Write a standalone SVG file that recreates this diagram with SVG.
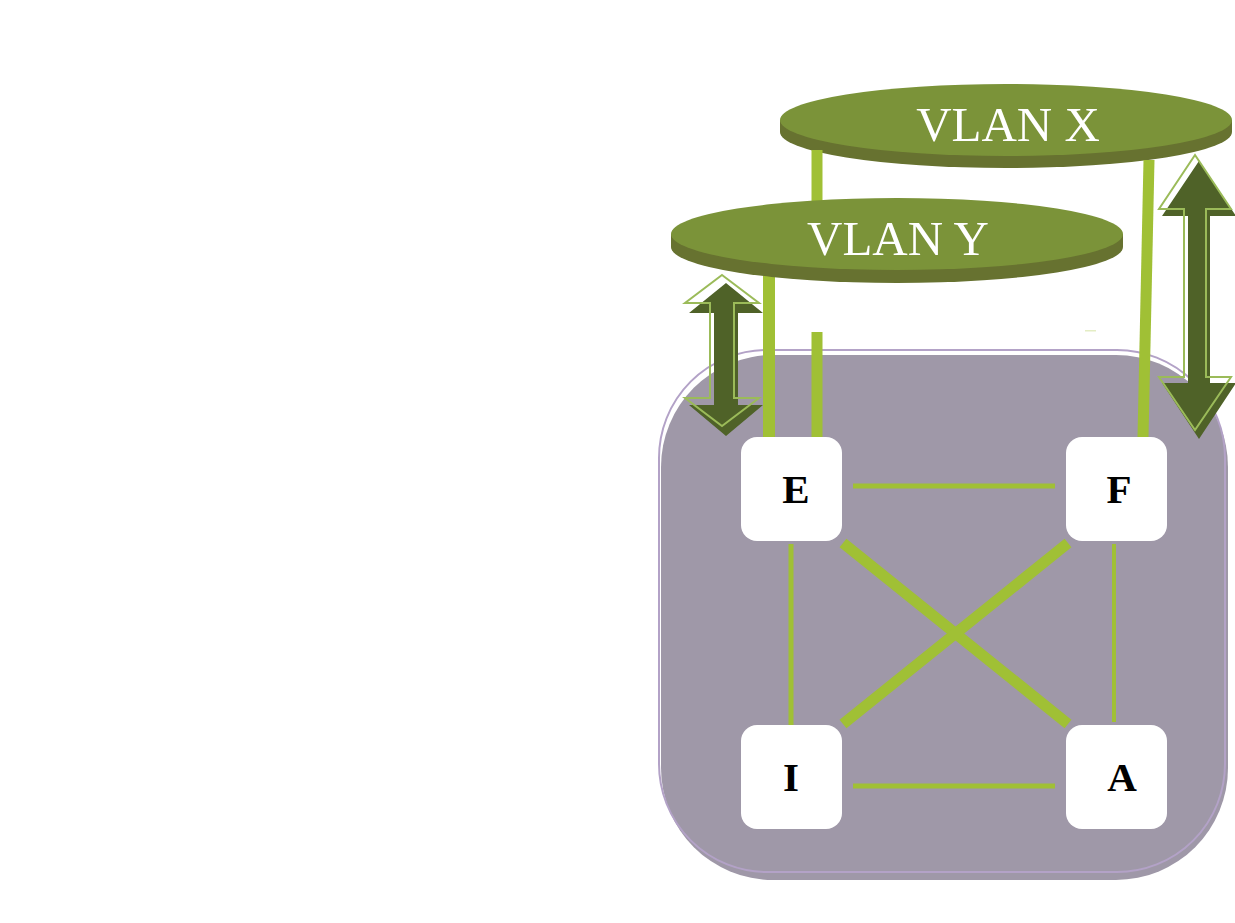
<svg xmlns="http://www.w3.org/2000/svg" width="1235" height="923" viewBox="0 0 1235 923">
<style>
.node rect{fill:#fff}
.node text{font-family:"Liberation Serif",serif;font-weight:bold;font-size:41px;fill:#000;text-anchor:middle}
.vlan text{font-family:"Liberation Serif",serif;font-size:49px;fill:#fff;text-anchor:middle}
.side{fill:#677230}
.top{fill:#7b9339}
.ln{stroke:#a0c035;fill:none}
.dark{fill:#4f6228}
.outl{fill:none;stroke:#9bbb59;stroke-width:2}
</style>
<rect width="1235" height="923" fill="#fff"/>
<g id="container">
<rect x="661" y="355" width="567" height="525" rx="112" fill="#9f98a8"/>
<rect x="659" y="350" width="566" height="522" rx="108" fill="none" stroke="#b3a2c7" stroke-width="2"/>
</g>
<g id="vlan-x" class="vlan">
<ellipse class="side" cx="1006" cy="132" rx="226" ry="36"/>
<rect class="side" x="780" y="120" width="452" height="12"/>
<ellipse class="top" cx="1006" cy="120" rx="226" ry="36"/>
<text x="1008" y="141">VLAN X</text>
</g>
<g id="connectors">
<line class="ln" x1="817" y1="150" x2="817" y2="205" stroke-width="11"/>
<line class="ln" x1="1149" y1="160" x2="1143" y2="437" stroke-width="11"/>
<line class="ln" x1="769" y1="275" x2="769" y2="437" stroke-width="12"/>
<line class="ln" x1="817" y1="332" x2="817" y2="437" stroke-width="11"/>
<line class="ln" x1="853" y1="486" x2="1055" y2="486" stroke-width="5"/>
<line class="ln" x1="853" y1="786" x2="1055" y2="786" stroke-width="5"/>
<line class="ln" x1="791" y1="544" x2="791" y2="725" stroke-width="5"/>
<line class="ln" x1="1114" y1="544" x2="1114" y2="722" stroke-width="4"/>
<line class="ln" x1="843" y1="543" x2="1068" y2="724" stroke-width="11"/>
<line class="ln" x1="1068" y1="543" x2="843" y2="724" stroke-width="11"/>
<rect x="1085" y="330" width="11" height="1.5" fill="#e4edc4"/>
</g>
<g id="vlan-y" class="vlan">
<ellipse class="side" cx="897" cy="247" rx="226" ry="36"/>
<rect class="side" x="671" y="234" width="452" height="13"/>
<ellipse class="top" cx="897" cy="234" rx="226" ry="36"/>
<text x="898" y="255">VLAN Y</text>
</g>
<g id="arrow-left">
<polygon class="dark" points="726,283 763,313 738,313 738,405 763,405 726,436 689,405 714,405 714,313 689,313"/>
<polygon class="outl" points="722,275 759,303 734,303 734,398 759,398 722,426 685,398 710,398 710,303 685,303"/>
</g>
<g id="arrow-right">
<polygon class="dark" points="1199,161 1236,216 1210,216 1210,383 1236,383 1199,439 1162,383 1188,383 1188,216 1162,216"/>
<polygon class="outl" points="1195,155 1231,209 1206,209 1206,377 1231,377 1195,430 1159,377 1184,377 1184,209 1159,209"/>
</g>
<g id="node-E" class="node"><rect x="741" y="437" width="101" height="104" rx="16"/><text x="796" y="503">E</text></g>
<g id="node-F" class="node"><rect x="1066" y="437" width="101" height="104" rx="16"/><text x="1119" y="503">F</text></g>
<g id="node-I" class="node"><rect x="741" y="725" width="101" height="104" rx="16"/><text x="791" y="791">I</text></g>
<g id="node-A" class="node"><rect x="1066" y="725" width="101" height="104" rx="16"/><text x="1122" y="791">A</text></g>
</svg>
